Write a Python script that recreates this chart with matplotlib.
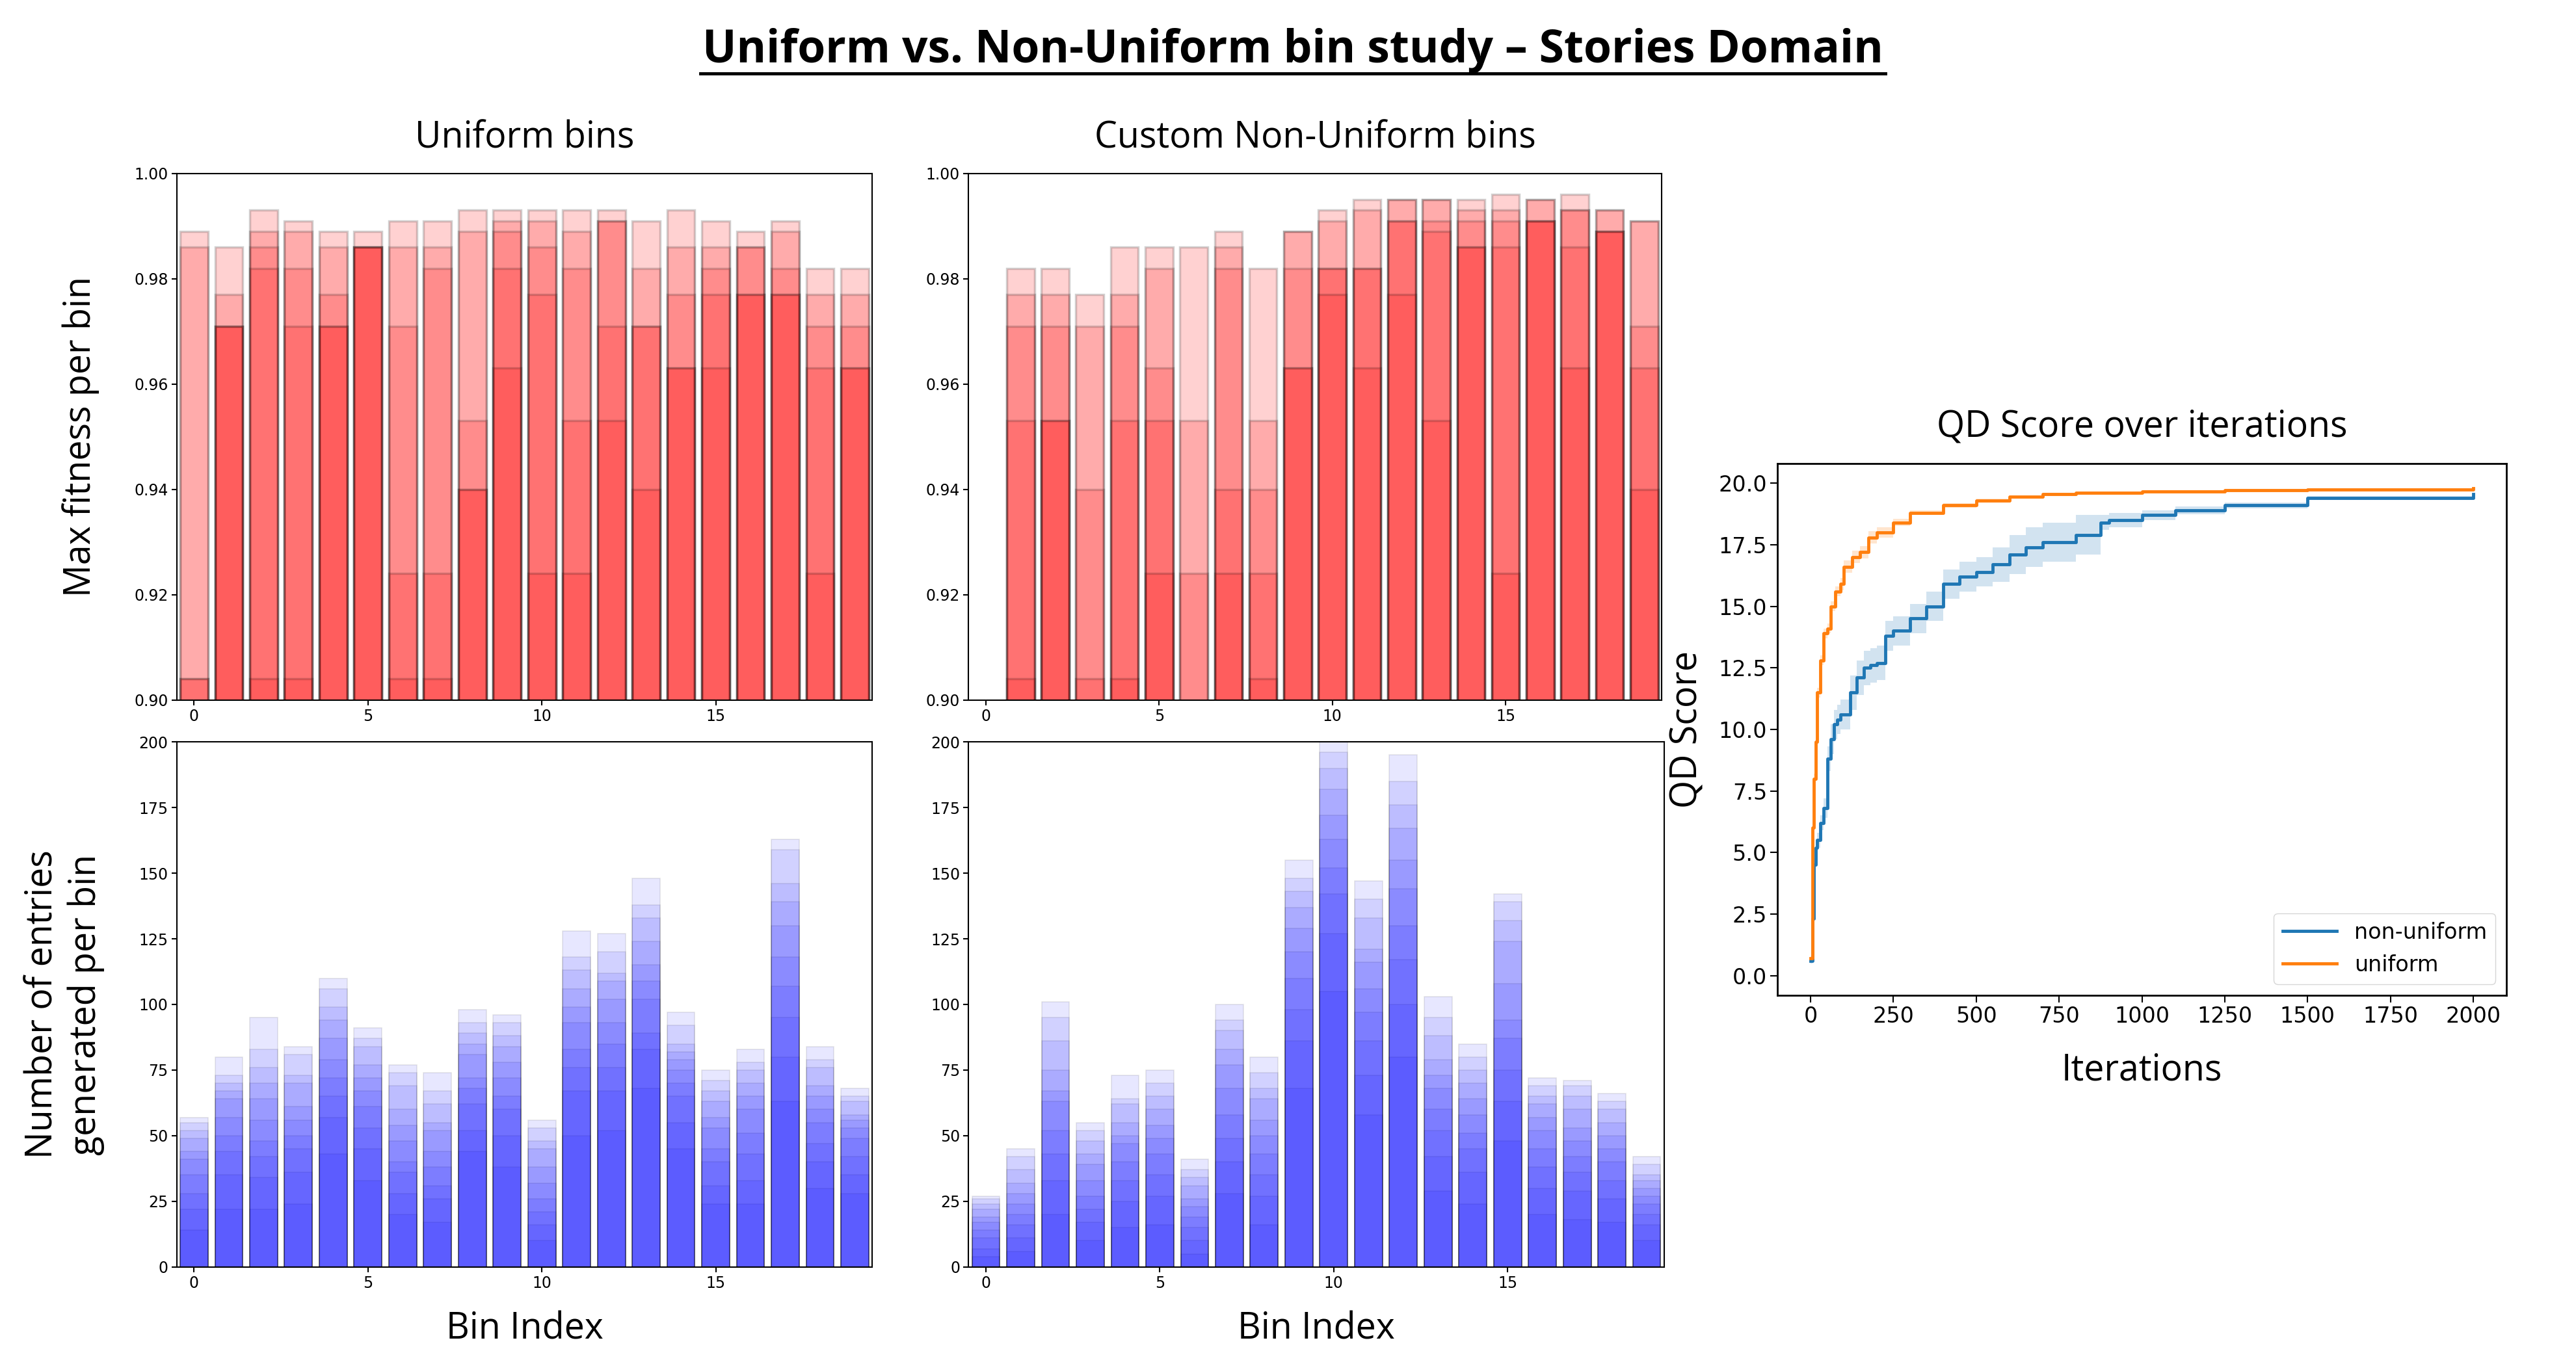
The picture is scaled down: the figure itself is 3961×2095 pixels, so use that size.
import matplotlib
matplotlib.use("Agg")
import matplotlib.pyplot as plt
import numpy as np

bins = list(range(20))

# max fitness per bin, one list per run (0 = empty bin)
fit_uniform = [
    [0.989, 0.986, 0.993, 0.991, 0.989, 0.989, 0.991, 0.991, 0.993, 0.993, 0.993, 0.993, 0.993, 0.991, 0.993, 0.991, 0.989, 0.991, 0.982, 0.982],
    [0.986, 0.977, 0.989, 0.989, 0.986, 0.986, 0.986, 0.986, 0.989, 0.991, 0.991, 0.989, 0.991, 0.982, 0.986, 0.986, 0.986, 0.989, 0.977, 0.977],
    [0.904, 0.971, 0.986, 0.982, 0.977, 0.986, 0.971, 0.982, 0.953, 0.989, 0.986, 0.982, 0.991, 0.971, 0.977, 0.982, 0.986, 0.982, 0.971, 0.971],
    [0.904, 0.971, 0.982, 0.971, 0.971, 0.986, 0.924, 0.924, 0.940, 0.982, 0.977, 0.953, 0.971, 0.971, 0.963, 0.977, 0.977, 0.977, 0.963, 0.963],
    [0.000, 0.971, 0.904, 0.904, 0.971, 0.986, 0.904, 0.904, 0.940, 0.963, 0.924, 0.924, 0.953, 0.940, 0.963, 0.963, 0.977, 0.977, 0.924, 0.963],
]
fit_custom = [
    [0.000, 0.982, 0.982, 0.977, 0.986, 0.986, 0.986, 0.989, 0.982, 0.989, 0.993, 0.995, 0.995, 0.995, 0.995, 0.996, 0.995, 0.996, 0.993, 0.991],
    [0.000, 0.977, 0.977, 0.971, 0.977, 0.982, 0.953, 0.986, 0.953, 0.989, 0.991, 0.993, 0.995, 0.995, 0.993, 0.993, 0.995, 0.993, 0.993, 0.991],
    [0.000, 0.971, 0.971, 0.940, 0.971, 0.963, 0.924, 0.982, 0.940, 0.982, 0.982, 0.982, 0.991, 0.991, 0.991, 0.991, 0.991, 0.993, 0.989, 0.971],
    [0.000, 0.953, 0.953, 0.904, 0.953, 0.953, 0.000, 0.940, 0.924, 0.963, 0.982, 0.982, 0.991, 0.989, 0.986, 0.986, 0.991, 0.986, 0.989, 0.963],
    [0.000, 0.904, 0.953, 0.000, 0.904, 0.924, 0.000, 0.924, 0.904, 0.963, 0.977, 0.963, 0.977, 0.953, 0.986, 0.924, 0.991, 0.963, 0.989, 0.940],
]

# number of entries per bin at successive snapshots
count_uniform = [
    [14, 22, 22, 24, 43, 33, 20, 17, 44, 38, 10, 50, 52, 68, 45, 24, 24, 63, 30, 28],
    [22, 35, 34, 36, 57, 45, 28, 26, 52, 50, 16, 67, 67, 83, 55, 31, 33, 80, 40, 35],
    [28, 44, 42, 45, 65, 53, 36, 31, 62, 60, 21, 76, 76, 89, 65, 40, 43, 95, 47, 42],
    [35, 50, 48, 50, 72, 61, 40, 38, 68, 65, 26, 83, 85, 102, 70, 45, 51, 107, 55, 49],
    [41, 57, 56, 56, 79, 67, 48, 44, 72, 72, 32, 93, 93, 109, 75, 53, 60, 118, 60, 53],
    [44, 64, 64, 61, 87, 72, 54, 52, 81, 78, 38, 99, 102, 115, 79, 57, 65, 130, 65, 56],
    [49, 67, 70, 70, 94, 77, 60, 55, 85, 84, 45, 106, 109, 124, 82, 63, 70, 139, 69, 58],
    [52, 70, 76, 73, 99, 84, 69, 62, 89, 88, 48, 113, 112, 133, 85, 67, 75, 146, 76, 63],
    [55, 73, 83, 81, 106, 87, 74, 67, 93, 93, 53, 118, 120, 138, 92, 71, 78, 159, 79, 65],
    [57, 80, 95, 84, 110, 91, 77, 74, 98, 96, 56, 128, 127, 148, 97, 75, 83, 163, 84, 68],
]
count_custom = [
    [4, 6, 20, 10, 15, 16, 5, 28, 16, 68, 105, 58, 80, 29, 24, 48, 20, 18, 17, 10],
    [7, 11, 33, 17, 25, 27, 10, 40, 27, 86, 127, 73, 100, 42, 36, 63, 30, 29, 26, 16],
    [11, 16, 43, 22, 33, 35, 15, 49, 35, 98, 142, 86, 117, 52, 45, 75, 38, 36, 33, 20],
    [14, 20, 52, 27, 40, 43, 19, 58, 43, 110, 152, 97, 130, 60, 51, 87, 45, 42, 40, 24],
    [17, 24, 63, 33, 47, 49, 23, 68, 50, 120, 163, 106, 144, 68, 58, 94, 52, 48, 45, 27],
    [19, 28, 67, 39, 50, 54, 26, 77, 56, 129, 172, 116, 155, 73, 64, 108, 57, 53, 50, 30],
    [22, 32, 75, 43, 55, 60, 31, 83, 64, 137, 182, 121, 167, 79, 70, 124, 62, 60, 55, 33],
    [24, 37, 86, 48, 62, 65, 34, 90, 68, 143, 190, 133, 176, 88, 75, 132, 65, 65, 60, 35],
    [26, 42, 95, 52, 64, 70, 37, 94, 74, 148, 196, 140, 185, 95, 80, 139, 69, 69, 63, 39],
    [27, 45, 101, 55, 73, 75, 41, 100, 80, 155, 205, 147, 195, 103, 85, 142, 72, 71, 66, 42],
]

# QD score over iterations
it_uni = [0, 5, 10, 15, 20, 30, 40, 50, 60, 75, 90, 100, 125, 150, 175, 200, 250, 300, 400, 500, 600, 700, 800, 1000, 1250, 1500, 2000]
qd_uni = [0.7, 6.0, 8.0, 9.5, 11.5, 12.8, 13.9, 14.1, 15.0, 15.6, 15.9, 16.6, 17.0, 17.2, 17.8, 18.0, 18.4, 18.8, 19.1, 19.3, 19.45, 19.55, 19.6, 19.65, 19.72, 19.75, 19.8]
qd_uni_err = [0.1, 0.2, 0.2, 0.2, 0.2, 0.2, 0.2, 0.2, 0.2, 0.2, 0.25, 0.25, 0.25, 0.25, 0.25, 0.2, 0.15, 0.1, 0.1, 0.08, 0.05, 0.05, 0.05, 0.04, 0.04, 0.03, 0.03]
it_non = [0, 5, 10, 15, 20, 30, 40, 50, 60, 70, 80, 90, 100, 120, 140, 160, 180, 200, 225, 250, 300, 350, 400, 450, 500, 550, 600, 650, 700, 800, 875, 900, 1000, 1100, 1250, 1500, 2000]
qd_non = [0.6, 2.3, 4.5, 5.2, 5.5, 6.2, 6.8, 8.8, 9.6, 10.2, 10.4, 10.6, 10.6, 11.5, 12.1, 12.5, 12.6, 12.7, 13.8, 14.0, 14.5, 15.0, 15.9, 16.2, 16.4, 16.7, 17.1, 17.4, 17.6, 17.9, 18.4, 18.5, 18.7, 18.9, 19.1, 19.4, 19.55]
qd_non_err = [0.1, 0.2, 0.3, 0.3, 0.3, 0.3, 0.4, 0.5, 0.6, 0.6, 0.6, 0.6, 0.6, 0.7, 0.7, 0.7, 0.7, 0.7, 0.6, 0.6, 0.6, 0.6, 0.6, 0.6, 0.6, 0.7, 0.8, 0.8, 0.8, 0.8, 0.3, 0.3, 0.2, 0.15, 0.12, 0.08, 0.05]

label_font = "Open Sans"

fig = plt.figure(figsize=(39.61, 20.95), dpi=100)

ax_fu = fig.add_axes([0.0686, 0.486, 0.2700, 0.3867])
ax_fc = fig.add_axes([0.3760, 0.486, 0.2690, 0.3867])
ax_cu = fig.add_axes([0.0686, 0.0698, 0.2700, 0.3855])
ax_cc = fig.add_axes([0.3760, 0.0698, 0.2700, 0.3855])
ax_qd = fig.add_axes([0.6900, 0.2693, 0.2830, 0.3904])

for ax, runs in [(ax_fu, fit_uniform), (ax_fc, fit_custom)]:
    for run in runs:
        ax.bar(bins, run, width=0.8, color="red", alpha=0.18,
               edgecolor="black", linewidth=2.5)
    ax.set_ylim(0.90, 1.00)
    ax.set_xlim(-0.5, 19.5)

for ax, snaps in [(ax_cu, count_uniform), (ax_cc, count_custom)]:
    for snap in snaps:
        ax.bar(bins, snap, width=0.8, color="blue", alpha=0.095,
               edgecolor="black", linewidth=1.2)
    ax.set_ylim(0, 200)
    ax.set_xlim(-0.5, 19.5)

for ax in [ax_fu, ax_fc, ax_cu, ax_cc]:
    ax.set_xticks([0, 5, 10, 15])
    ax.tick_params(labelsize=17, length=6, width=1.5)
    for s in ax.spines.values():
        s.set_linewidth(1.5)

ax_fu.set_title("Uniform bins", fontsize=40, family=label_font, pad=28)
ax_fc.set_title("Custom Non-Uniform bins", fontsize=40, family=label_font, pad=28)
ax_fu.set_ylabel("Max fitness per bin", fontsize=40, family=label_font, labelpad=38)
ax_cu.set_ylabel("Number of entries\ngenerated per bin", fontsize=40, family=label_font, labelpad=38)
ax_cu.set_xlabel("Bin Index", fontsize=40, family=label_font, labelpad=22)
ax_cc.set_xlabel("Bin Index", fontsize=40, family=label_font, labelpad=22)

# QD score panel
ax_qd.step(it_non, qd_non, where="post", color="#1f77b4", linewidth=3.5, label="non-uniform")
ax_qd.fill_between(it_non, np.array(qd_non) - np.array(qd_non_err),
                   np.array(qd_non) + np.array(qd_non_err), step="post",
                   color="#1f77b4", alpha=0.2, linewidth=0)
ax_qd.step(it_uni, qd_uni, where="post", color="#ff7f0e", linewidth=3.5, label="uniform")
ax_qd.fill_between(it_uni, np.array(qd_uni) - np.array(qd_uni_err),
                   np.array(qd_uni) + np.array(qd_uni_err), step="post",
                   color="#ff7f0e", alpha=0.2, linewidth=0)
ax_qd.set_xlim(-100, 2100)
ax_qd.set_ylim(-0.8, 20.8)
ax_qd.set_xticks(np.arange(0, 2001, 250))
ax_qd.set_yticks(np.arange(0, 20.1, 2.5))
ax_qd.tick_params(labelsize=24, length=8, width=1.5)
for s in ax_qd.spines.values():
    s.set_linewidth(2)
ax_qd.set_title("QD Score over iterations", fontsize=40, family=label_font, pad=30)
ax_qd.set_xlabel("Iterations", fontsize=40, family=label_font, labelpad=28)
ax_qd.set_ylabel("QD Score", fontsize=40, family=label_font, labelpad=14)
ax_qd.legend(loc="lower right", fontsize=24, handlelength=2.5)

fig.text(0.502, 0.963, "Uniform vs. Non-Uniform bin study \u2013 Stories Domain",
         ha="center", va="center", fontsize=50, fontweight="bold",
         family=label_font)
fig.add_artist(plt.Line2D([0.272, 0.732], [0.946, 0.946], color="black", linewidth=3.5))

fig.savefig("out.png", dpi=100)
